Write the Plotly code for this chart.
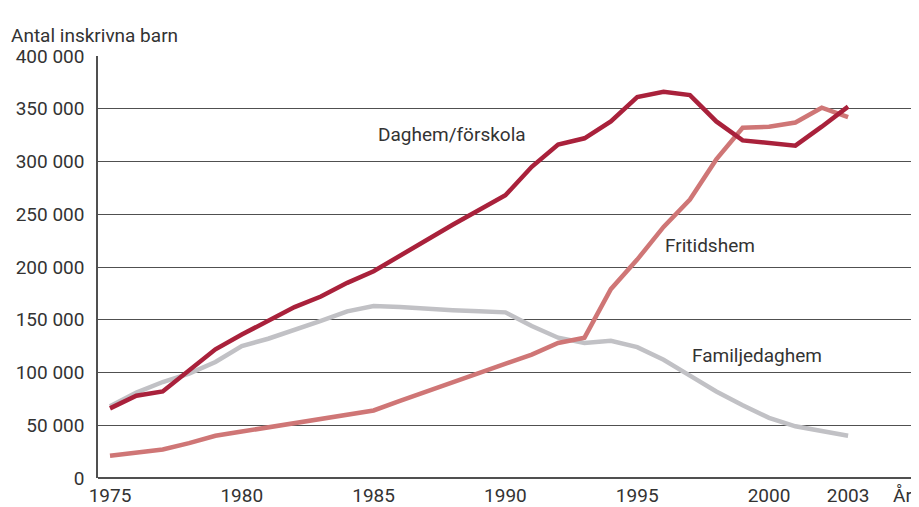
import plotly.graph_objects as go

years = list(range(1975, 2004))

daghem = [66, 78, 82, 102, 122, 136, 149, 162, 172, 185, 196,
          211, 226, 240, 254, 268, 295, 316, 322, 338, 361,
          366, 363, 338, 320, 317, 315, 333, 352]
fritidshem = [21, 24, 27, 33, 40, 44, 48, 52, 56, 60, 64,
              73, 82, 91, 100, 109, 117, 128, 133, 179, 207,
              238, 264, 302, 332, 333, 337, 351, 342]
familjedaghem = [68, 81, 91, 99, 110, 125, 132, 140, 149, 158, 163,
                 162, 160, 159, 158, 157, 144, 133, 128, 130, 124,
                 112, 97, 82, 69, 57, 49, 45, 40]

x_ticks = [1975, 1980, 1985, 1990, 1995, 2000, 2003]
y_ticks = [0, 50000, 100000, 150000, 200000, 250000, 300000, 350000, 400000]
y_labels = ["0", "50 000", "100 000", "150 000", "200 000",
            "250 000", "300 000", "350 000", "400 000"]

FONT = "Roboto, Arial, sans-serif"
TXT = "#333333"
FS = 19

fig = go.Figure()

# familjedaghem drawn first so the red lines sit on top
series = [
    ("Familjedaghem", familjedaghem, "#c1c1c5"),
    ("Fritidshem", fritidshem, "#cf7676"),
    ("Daghem/förskola", daghem, "#a9213b"),
]
for name, vals, color in series:
    fig.add_trace(go.Scatter(
        x=years, y=[v * 1000 for v in vals], mode="lines", name=name,
        line=dict(color=color, width=4.5), showlegend=False,
    ))

# series labels inside the plot
fig.add_annotation(x=1987.97, y=326000, text="Daghem/förskola", showarrow=False,
                   font=dict(size=FS, color=TXT, family=FONT))
fig.add_annotation(x=1997.76, y=220000, text="Fritidshem", showarrow=False,
                   font=dict(size=FS, color=TXT, family=FONT))
fig.add_annotation(x=1999.55, y=115700, text="Familjedaghem", showarrow=False,
                   font=dict(size=FS, color=TXT, family=FONT))

# axis titles
fig.add_annotation(x=-0.108, y=1.0806, xref="paper", yref="paper",
                   text="Antal inskrivna barn", showarrow=False,
                   xanchor="left", font=dict(size=FS, color=TXT, family=FONT))
fig.add_annotation(x=2005.05, y=-0.042, yref="paper", text="År", showarrow=False,
                   xanchor="center", yanchor="middle",
                   font=dict(size=FS, color=TXT, family=FONT))

fig.update_xaxes(
    range=[1974.545, 2005.69], tickvals=x_ticks, ticktext=[str(t) for t in x_ticks],
    showgrid=False, zeroline=False, showline=False, ticks="",
    ticklabelstandoff=4, automargin=False,
    tickfont=dict(size=FS, color=TXT, family=FONT),
)
fig.update_yaxes(
    range=[0, 400000], tickvals=y_ticks, ticktext=y_labels,
    showgrid=True, gridcolor="#505050", gridwidth=1,
    zeroline=True, zerolinecolor="#505050", zerolinewidth=1.5,
    showline=True, linecolor="#505050", linewidth=1.5,
    ticks="", ticklabelstandoff=8, automargin=False,
    tickfont=dict(size=FS, color=TXT, family=FONT),
)

# the page body keeps an 8px margin, so the figure is sized to fit inside it
fig.update_layout(
    width=911, height=499,
    margin=dict(l=90, r=0, t=48, b=29),
    paper_bgcolor="white", plot_bgcolor="white",
    font=dict(family=FONT, color=TXT),
)

fig.write_html("out.html")
